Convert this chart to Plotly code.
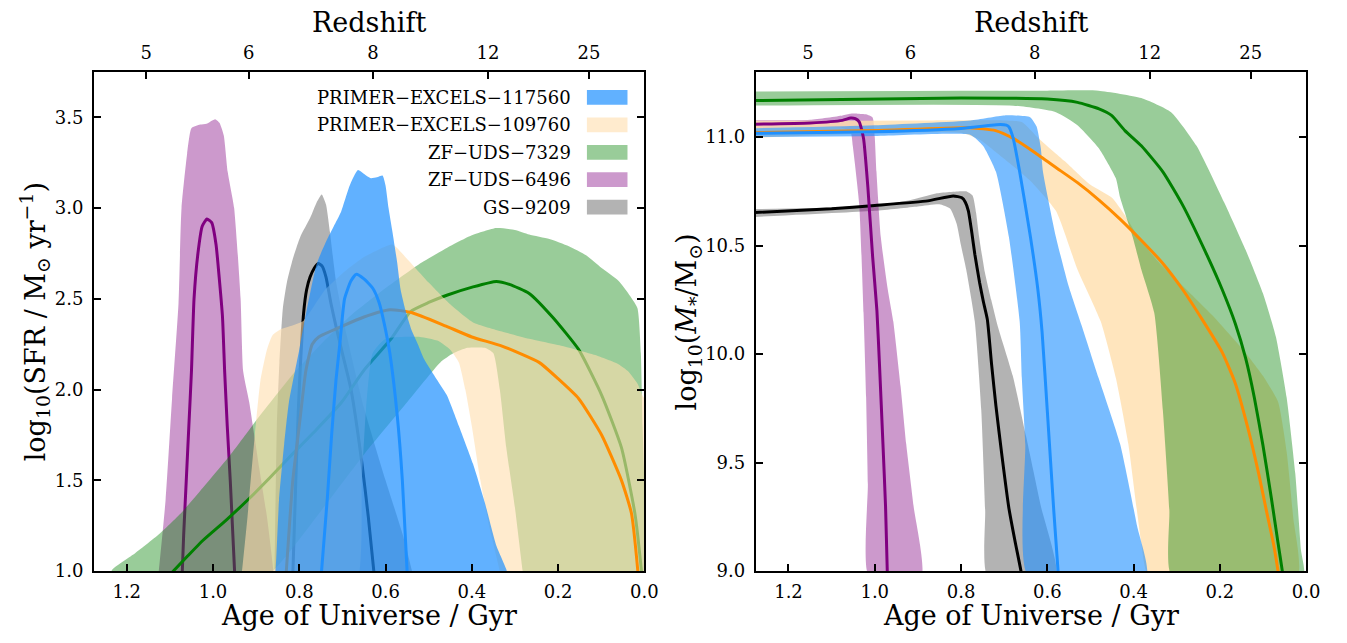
import numpy as np
import plotly.graph_objects as go

# ---------------- data ----------------
names = ["PRIMER\u2212EXCELS\u2212117560", "PRIMER\u2212EXCELS\u2212109760",
         "ZF\u2212UDS\u22127329", "ZF\u2212UDS\u22126496", "GS\u22129209"]
redshift_ticks = [5, 6, 8, 12, 25]
age_ticks = [1.2, 1.0, 0.8, 0.6, 0.4, 0.2, 0.0]
sfr_ticks = [1.0, 1.5, 2.0, 2.5, 3.0, 3.5]
mass_ticks = [9.0, 9.5, 10.0, 10.5, 11.0]

# ---- SFR panel ----
# GS-9209
gs_sfr_up_age = [0.858, 0.852, 0.846, 0.838, 0.828, 0.815, 0.798, 0.775, 0.760, 0.748, 0.738, 0.729, 0.715, 0.69, 0.65, 0.60, 0.56, 0.53]
gs_sfr_up = [0.9, 1.8, 2.15, 2.45, 2.60, 2.72, 2.84, 2.945, 3.03, 3.075, 3.02, 2.87, 2.6, 2.3, 1.9, 1.5, 1.2, 0.9]
gs_sfr_lo_age = [0.858, 0.53]
gs_sfr_lo = [0.5, 0.5]
gs_sfr_med_age = [0.816, 0.808, 0.802, 0.797, 0.79, 0.783, 0.775, 0.765, 0.756, 0.747, 0.738, 0.727, 0.715, 0.70, 0.68, 0.655, 0.64, 0.625]
gs_sfr_med = [0.9, 1.5, 1.9, 2.15, 2.42, 2.55, 2.62, 2.67, 2.695, 2.68, 2.62, 2.48, 2.35, 2.2, 2.0, 1.6, 1.3, 0.95]

# ZF-UDS-6496
z6_sfr_up_age = [1.13, 1.11, 1.095, 1.08, 1.073, 1.06, 1.05, 1.03, 1.015, 0.995, 0.985, 0.975, 0.966, 0.951, 0.936, 0.93, 0.916, 0.893, 0.875, 0.858]
z6_sfr_up = [0.9, 1.39, 1.95, 2.475, 3.0, 3.3, 3.44, 3.46, 3.465, 3.49, 3.47, 3.40, 3.2, 3.0, 2.5, 2.1, 1.93, 1.57, 1.3, 0.95]
z6_sfr_lo_age = [1.13, 0.858]
z6_sfr_lo = [0.5, 0.5]
z6_sfr_med_age = [1.072, 1.068, 1.062, 1.056, 1.05, 1.044, 1.035, 1.025, 1.014, 1.003, 0.993, 0.985, 0.978, 0.973, 0.967, 0.96, 0.955, 0.949]
z6_sfr_med = [0.95, 1.2, 1.5, 1.8, 2.1, 2.5, 2.75, 2.9, 2.94, 2.92, 2.8, 2.6, 2.4, 2.1, 1.8, 1.5, 1.25, 0.95]

# ZF-UDS-7329
z7_sfr_up_age = [1.245, 1.233, 1.18, 1.122, 1.07, 1.023, 0.96, 0.90, 0.82, 0.75, 0.68, 0.60, 0.523, 0.458, 0.40, 0.343, 0.30, 0.267, 0.22, 0.175, 0.135, 0.099, 0.06, 0.037, 0.016, 0.008, 0.004, 0.0]
z7_sfr_up = [0.95, 1.01, 1.10, 1.21, 1.33, 1.46, 1.64, 1.83, 2.07, 2.25, 2.41, 2.56, 2.69, 2.78, 2.85, 2.89, 2.88, 2.855, 2.83, 2.79, 2.74, 2.67, 2.6, 2.53, 2.45, 2.2, 1.8, 1.5]
z7_sfr_lo_age = [1.25, 0.87, 0.75, 0.649, 0.55, 0.473, 0.443, 0.41, 0.37, 0.35, 0.335, 0.32, 0.30, 0.282, 0.27, 0.0]
z7_sfr_lo = [0.5, 0.98, 1.33, 1.645, 1.93, 2.15, 2.20, 2.23, 2.23, 2.2, 2.0, 1.68, 1.35, 1.0, 0.8, 0.5]
z7_sfr_med_age = [1.10, 1.06, 1.023, 0.97, 0.916, 0.87, 0.824, 0.76, 0.702, 0.649, 0.587, 0.542, 0.50, 0.458, 0.397, 0.343, 0.313, 0.267, 0.213, 0.152, 0.099, 0.053, 0.022, 0.007, 0.003]
z7_sfr_med = [0.98, 1.08, 1.17, 1.28, 1.40, 1.51, 1.625, 1.78, 1.93, 2.11, 2.28, 2.43, 2.48, 2.52, 2.566, 2.596, 2.58, 2.53, 2.40, 2.22, 1.97, 1.68, 1.32, 1.01, 0.9]

# PRIMER-EXCELS-109760
p9_sfr_up_age = [0.935, 0.92, 0.905, 0.89, 0.875, 0.862, 0.845, 0.82, 0.79, 0.74, 0.70, 0.65, 0.584, 0.55, 0.50, 0.45, 0.397, 0.33, 0.267, 0.19, 0.114, 0.06, 0.037, 0.015, 0.005, 0.0]
p9_sfr_up = [0.95, 1.3, 1.7, 2.05, 2.22, 2.30, 2.33, 2.35, 2.38, 2.55, 2.64, 2.73, 2.80, 2.72, 2.59, 2.47, 2.37, 2.32, 2.28, 2.24, 2.19, 2.14, 2.10, 2.03, 1.97, 1.95]
p9_sfr_lo_age = [0.935, 0.67, 0.655, 0.645, 0.63, 0.60, 0.52, 0.48, 0.45, 0.43, 0.415, 0.40, 0.38, 0.36, 0.335, 0.32, 0.0]
p9_sfr_lo = [0.5, 0.9, 1.5, 1.9, 2.2, 2.28, 2.29, 2.27, 2.22, 2.15, 2.0, 1.8, 1.5, 1.25, 1.0, 0.8, 0.5]
p9_sfr_med_age = [0.83, 0.815, 0.80, 0.785, 0.77, 0.755, 0.70, 0.65, 0.59, 0.54, 0.46, 0.40, 0.33, 0.244, 0.20, 0.152, 0.099, 0.053, 0.03, 0.015, 0.012]
p9_sfr_med = [1.0, 1.5, 1.8, 2.1, 2.25, 2.29, 2.35, 2.40, 2.44, 2.425, 2.35, 2.29, 2.24, 2.15, 2.06, 1.95, 1.75, 1.5, 1.32, 1.0, 0.9]

# PRIMER-EXCELS-117560
p7_sfr_up_age = [0.862, 0.855, 0.847, 0.835, 0.824, 0.80, 0.79, 0.76, 0.737, 0.72, 0.703, 0.683, 0.664, 0.645, 0.634, 0.62, 0.607, 0.60, 0.593, 0.584, 0.573, 0.565, 0.553, 0.54, 0.525, 0.511, 0.485, 0.458, 0.43, 0.397, 0.37, 0.343, 0.32, 0.31]
p7_sfr_up = [0.9, 1.0, 1.39, 1.7, 1.93, 2.22, 2.35, 2.69, 2.82, 2.9, 2.98, 3.125, 3.21, 3.18, 3.165, 3.17, 3.18, 3.125, 3.0, 2.87, 2.7, 2.55, 2.43, 2.33, 2.25, 2.17, 2.07, 1.97, 1.8, 1.59, 1.38, 1.14, 1.01, 0.9]
p7_sfr_lo_age = [0.862, 0.31]
p7_sfr_lo = [0.5, 0.5]
p7_sfr_med_age = [0.75, 0.735, 0.725, 0.715, 0.706, 0.695, 0.68, 0.668, 0.65, 0.63, 0.615, 0.60, 0.59, 0.573, 0.561, 0.55, 0.547]
p7_sfr_med = [0.95, 1.4, 1.75, 2.05, 2.25, 2.5, 2.6, 2.635, 2.61, 2.56, 2.48, 2.33, 2.2, 1.86, 1.5, 1.0, 0.9]

# ---- stellar-mass panel ----
gs_m_up_age = [1.30, 1.1, 0.976, 0.917, 0.858, 0.80, 0.788, 0.773, 0.765, 0.758, 0.745, 0.73, 0.715, 0.68, 0.649, 0.615, 0.58]
gs_m_up = [10.668, 10.675, 10.69, 10.71, 10.74, 10.75, 10.75, 10.73, 10.65, 10.54, 10.38, 10.25, 10.13, 9.9, 9.62, 9.3, 8.98]
gs_m_lo_age = [1.30, 1.0, 0.9, 0.85, 0.825, 0.81, 0.80, 0.788, 0.768, 0.753, 0.744, 0.739]
gs_m_lo = [10.63, 10.66, 10.68, 10.69, 10.67, 10.6, 10.5, 10.39, 10.15, 9.74, 9.28, 8.98]
gs_m_med_age = [1.30, 1.1, 1.0, 0.877, 0.818, 0.798, 0.79, 0.783, 0.775, 0.768, 0.757, 0.748, 0.739, 0.729, 0.719, 0.705, 0.689, 0.675, 0.661, 0.655]
gs_m_med = [10.65, 10.67, 10.685, 10.706, 10.729, 10.72, 10.70, 10.66, 10.56, 10.46, 10.33, 10.24, 10.16, 9.95, 9.76, 9.53, 9.29, 9.14, 9.0, 8.92]

z6_m_up_age = [1.30, 1.15, 1.075, 1.056, 1.04, 1.02, 1.005, 1.0, 0.996, 0.986, 0.97, 0.957, 0.94, 0.927, 0.91, 0.892]
z6_m_up = [11.077, 11.08, 11.1, 11.108, 11.108, 11.105, 11.09, 11.0, 10.84, 10.54, 10.3, 10.15, 9.85, 9.585, 9.3, 8.98]
z6_m_lo_age = [1.30, 1.08, 1.056, 1.051, 1.036, 1.026, 1.02, 1.016, 1.014]
z6_m_lo = [11.04, 11.045, 11.024, 10.96, 10.69, 10.19, 9.8, 9.4, 8.98]
z6_m_med_age = [1.30, 1.15, 1.075, 1.056, 1.045, 1.036, 1.026, 1.016, 1.005, 0.995, 0.989, 0.981, 0.975, 0.971, 0.969]
z6_m_med = [11.059, 11.065, 11.077, 11.088, 11.085, 11.07, 10.994, 10.77, 10.45, 10.2, 9.95, 9.585, 9.3, 9.0, 8.9]

p9_m_up_age = [1.30, 0.9, 0.70, 0.659, 0.62, 0.56, 0.50, 0.45, 0.42, 0.386, 0.34, 0.294, 0.218, 0.142, 0.10, 0.065, 0.045, 0.03, 0.02]
p9_m_up = [11.075, 11.077, 11.077, 11.07, 10.994, 10.89, 10.78, 10.72, 10.64, 10.53, 10.42, 10.33, 10.18, 10.01, 9.9, 9.78, 9.55, 9.25, 8.98]
p9_m_lo_age = [1.30, 0.8, 0.758, 0.70, 0.64, 0.58, 0.53, 0.476, 0.441, 0.412, 0.382, 0.365]
p9_m_lo = [10.995, 11.02, 10.99, 10.9, 10.8, 10.66, 10.39, 10.15, 9.89, 9.585, 9.13, 8.98]
p9_m_med_age = [1.30, 1.0, 0.78, 0.72, 0.68, 0.63, 0.58, 0.53, 0.48, 0.43, 0.38, 0.333, 0.287, 0.241, 0.195, 0.165, 0.135, 0.11, 0.09, 0.075, 0.065, 0.06]
p9_m_med = [11.02, 11.03, 11.043, 11.03, 10.995, 10.93, 10.86, 10.79, 10.71, 10.62, 10.52, 10.42, 10.30, 10.16, 10.01, 9.87, 9.66, 9.45, 9.26, 9.12, 9.0, 8.93]

z7_m_up_age = [1.30, 0.8, 0.6, 0.481, 0.382, 0.313, 0.254, 0.19, 0.14, 0.10, 0.07, 0.045, 0.025, 0.012, 0.006]
z7_m_up = [11.21, 11.213, 11.214, 11.214, 11.18, 11.115, 10.96, 10.70, 10.48, 10.28, 10.08, 9.8, 9.45, 9.1, 8.98]
z7_m_lo_age = [1.30, 0.679, 0.58, 0.53, 0.481, 0.441, 0.431, 0.402, 0.382, 0.352, 0.332, 0.317, 0.312]
z7_m_lo = [11.145, 11.145, 11.115, 11.055, 10.95, 10.81, 10.72, 10.54, 10.39, 10.19, 9.74, 9.28, 8.98]
z7_m_med_age = [1.30, 0.8, 0.6, 0.53, 0.48, 0.451, 0.42, 0.382, 0.332, 0.287, 0.233, 0.195, 0.164, 0.14, 0.12, 0.10, 0.08, 0.065, 0.055, 0.05]
z7_m_med = [11.168, 11.18, 11.175, 11.16, 11.13, 11.1, 11.03, 10.96, 10.84, 10.69, 10.47, 10.30, 10.14, 9.98, 9.8, 9.58, 9.33, 9.13, 9.0, 8.92]

p7_m_up_age = [1.30, 1.0, 0.778, 0.699, 0.64, 0.625, 0.615, 0.61, 0.58, 0.55, 0.52, 0.481, 0.431, 0.392, 0.37]
p7_m_up = [11.04, 11.055, 11.077, 11.10, 11.092, 11.05, 10.95, 10.84, 10.54, 10.31, 10.13, 9.89, 9.585, 9.21, 8.98]
p7_m_lo_age = [1.30, 1.0, 0.778, 0.749, 0.719, 0.689, 0.664, 0.659, 0.651, 0.645]
p7_m_lo = [11.0, 11.005, 11.01, 10.96, 10.84, 10.54, 10.15, 9.89, 9.585, 8.98]
p7_m_med_age = [1.30, 1.0, 0.8, 0.709, 0.695, 0.689, 0.679, 0.664, 0.639, 0.622, 0.612, 0.60, 0.585, 0.575, 0.572]
p7_m_med = [11.017, 11.025, 11.04, 11.058, 11.055, 11.047, 10.994, 10.84, 10.54, 10.3, 10.1, 9.74, 9.28, 9.0, 8.9]

# ---------------- styling ----------------
FONT = "DejaVu Serif"
W, H = 1347, 643
XL = [87, 643]      # left panel px
XR = [755.7, 1311.7]
YT, YB = 65, 572
AGE_MAX = 1.2757

line_cols = {"p7": "#1e90ff", "p9": "#ff8c00", "z7": "#008000", "z6": "#800080", "gs": "#000000"}
fill_left = {"p7": "rgba(30,144,255,0.7)", "p9": "rgba(255,222,173,0.6)", "z7": "rgba(0,128,0,0.4)",
             "z6": "rgba(128,0,128,0.4)", "gs": "rgba(128,128,128,0.6)"}
fill_right = {"p7": "rgba(30,144,255,0.6)", "p9": "rgba(255,222,173,0.8)", "z7": "rgba(0,128,0,0.4)",
              "z6": "rgba(128,0,128,0.4)", "gs": "rgba(128,128,128,0.6)"}


def age_of_z(z, H0=70.0, Om=0.3):
    OL = 1 - Om
    tH = 977.8 / H0
    return 2.0 / (3.0 * tH ** -1 * np.sqrt(OL)) * np.arcsinh(np.sqrt(OL / Om) * (1 + z) ** -1.5)


def band(xa, ya, xb, yb, color, xax, yax):
    px = list(xa) + list(xb)[::-1]
    py = list(ya) + list(yb)[::-1]
    return go.Scatter(x=px, y=py, fill="toself", fillcolor=color, mode="lines",
                      line=dict(width=0, shape="spline", smoothing=0.5), hoverinfo="skip",
                      showlegend=False, xaxis=xax, yaxis=yax)


def med(x, y, color, xax, yax):
    return go.Scatter(x=x, y=y, mode="lines", line=dict(color=color, width=3, shape="spline", smoothing=0.5),
                      hoverinfo="skip", showlegend=False, xaxis=xax, yaxis=yax)


fig = go.Figure()

left = [("gs", gs_sfr_up_age, gs_sfr_up, gs_sfr_lo_age, gs_sfr_lo, gs_sfr_med_age, gs_sfr_med),
        ("z6", z6_sfr_up_age, z6_sfr_up, z6_sfr_lo_age, z6_sfr_lo, z6_sfr_med_age, z6_sfr_med),
        ("z7", z7_sfr_up_age, z7_sfr_up, z7_sfr_lo_age, z7_sfr_lo, z7_sfr_med_age, z7_sfr_med),
        ("p9", p9_sfr_up_age, p9_sfr_up, p9_sfr_lo_age, p9_sfr_lo, p9_sfr_med_age, p9_sfr_med),
        ("p7", p7_sfr_up_age, p7_sfr_up, p7_sfr_lo_age, p7_sfr_lo, p7_sfr_med_age, p7_sfr_med)]
for k, ua, u, la, l, ma, m in left:
    fig.add_trace(band(ua, u, la, l, fill_left[k], "x", "y"))
    fig.add_trace(med(ma, m, line_cols[k], "x", "y"))

right = [("gs", gs_m_up_age, gs_m_up, gs_m_lo_age, gs_m_lo, gs_m_med_age, gs_m_med),
         ("z6", z6_m_up_age, z6_m_up, z6_m_lo_age, z6_m_lo, z6_m_med_age, z6_m_med),
         ("p9", p9_m_up_age, p9_m_up, p9_m_lo_age, p9_m_lo, p9_m_med_age, p9_m_med),
         ("z7", z7_m_up_age, z7_m_up, z7_m_lo_age, z7_m_lo, z7_m_med_age, z7_m_med),
         ("p7", p7_m_up_age, p7_m_up, p7_m_lo_age, p7_m_lo, p7_m_med_age, p7_m_med)]
for k, ua, u, la, l, ma, m in right:
    fig.add_trace(band(ua, u, la, l, fill_right[k], "x2", "y2"))
for k in ["gs", "z6", "z7", "p9", "p7"]:
    d = [r for r in right if r[0] == k][0]
    fig.add_trace(med(d[5], d[6], line_cols[k], "x2", "y2"))

# invisible anchors for the redshift axes
fig.add_trace(go.Scatter(x=[0.5], y=[2.0], mode="markers", marker=dict(opacity=0), hoverinfo="skip",
                         showlegend=False, xaxis="x3", yaxis="y"))
fig.add_trace(go.Scatter(x=[0.5], y=[10.0], mode="markers", marker=dict(opacity=0), hoverinfo="skip",
                         showlegend=False, xaxis="x4", yaxis="y2"))

zpos = [float(age_of_z(z)) for z in redshift_ticks]

tickfont = dict(family=FONT, size=18, color="black")
common_x = dict(range=[AGE_MAX, 0.0], tickvals=age_ticks, ticktext=["%.1f" % a for a in age_ticks],
                ticks="inside", ticklen=7, tickwidth=1.5, tickcolor="black", showline=True,
                linecolor="black", linewidth=2, mirror=True, showgrid=False, zeroline=False,
                tickfont=tickfont, ticklabelstandoff=3)
top_x = dict(range=[AGE_MAX, 0.0], tickvals=zpos, ticktext=[str(z) for z in redshift_ticks],
             ticks="inside", ticklen=7, tickwidth=1.5, tickcolor="black", showline=False,
             side="top", showgrid=False, zeroline=False, tickfont=tickfont, ticklabelstandoff=8)
common_y = dict(ticks="inside", ticklen=7, tickwidth=1.5, tickcolor="black", showline=True,
                linecolor="black", linewidth=2, mirror="ticks", showgrid=False, zeroline=False,
                tickfont=tickfont, ticklabelstandoff=5)

ydom = [1 - YB / H, 1 - YT / H]
fig.update_layout(
    width=W, height=H, margin=dict(l=0, r=0, t=0, b=0),
    paper_bgcolor="white", plot_bgcolor="white",
    xaxis=dict(domain=[XL[0] / W, XL[1] / W], anchor="y", **common_x),
    yaxis=dict(domain=ydom, anchor="x", range=[1.0, 3.75], tickvals=sfr_ticks,
               ticktext=["%.1f" % v for v in sfr_ticks], **common_y),
    xaxis2=dict(domain=[XR[0] / W, XR[1] / W], anchor="y2", **common_x),
    yaxis2=dict(domain=ydom, anchor="x2", range=[9.0, 11.3], tickvals=mass_ticks,
                ticktext=["%.1f" % v for v in mass_ticks], **common_y),
    xaxis3=dict(overlaying="x", anchor="y", **top_x),
    xaxis4=dict(overlaying="x2", anchor="y2", **top_x),
    showlegend=False,
)

titlefont = dict(family=FONT, size=27, color="black")
ann = []
for x0, x1 in (XL, XR):
    xc = (x0 + x1) / 2 / W
    ann.append(dict(text="Age of Universe / Gyr", x=xc, y=1 - 617 / H, xref="paper", yref="paper",
                    showarrow=False, font=titlefont, xanchor="center", yanchor="middle"))
    ann.append(dict(text="Redshift", x=xc, y=1 - 15 / H, xref="paper", yref="paper",
                    showarrow=False, font=titlefont, xanchor="center", yanchor="middle"))
ycen = 1 - (YT + YB) / 2 / H
ann.append(dict(text="log<sub>10</sub>(SFR / M<sub>\u2299</sub> yr<sup>\u22121</sup>)", x=27 / W, y=ycen,
                xref="paper", yref="paper", showarrow=False, font=titlefont, textangle=-90,
                xanchor="center", yanchor="middle"))
ann.append(dict(text="log<sub>10</sub>(<i>M</i><sub>*</sub>/M<sub>\u2299</sub>)", x=688 / W, y=ycen,
                xref="paper", yref="paper", showarrow=False, font=titlefont, textangle=-90,
                xanchor="center", yanchor="middle"))

# legend (text + colour patches, upper right of the left panel)
leg_keys = ["p7", "p9", "z7", "z6", "gs"]
row_y = [90.7, 118.7, 146.7, 174.3, 202.3]
shapes = []
for name, k, ry in zip(names, leg_keys, row_y):
    ann.append(dict(text=name, x=571 / W, y=1 - ry / H, xref="paper", yref="paper", showarrow=False,
                    font=dict(family=FONT, size=18, color="black"), xanchor="right", yanchor="middle"))
    shapes.append(dict(type="rect", xref="paper", yref="paper", x0=585 / W, x1=626 / W,
                       y0=1 - (ry + 7.5) / H, y1=1 - (ry - 7.5) / H, fillcolor=fill_left[k],
                       line=dict(width=0)))
fig.update_layout(annotations=ann, shapes=shapes)

fig.write_html("out.html")
